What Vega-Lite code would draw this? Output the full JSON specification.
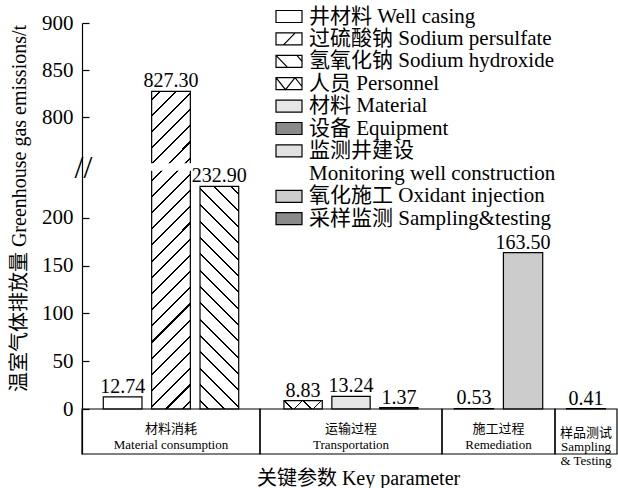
{
  "$schema": "https://vega.github.io/schema/vega-lite/v6.json",
  "padding": {"left": 9, "top": 5, "right": 1, "bottom": 0},
  "datasets": {
    "d": [
      {"stage": "Material consumption", "stage_label": "材料消耗\nMaterial consumption", "series": "井材料 Well casing", "value": 12.74},
      {"stage": "Material consumption", "stage_label": "材料消耗\nMaterial consumption", "series": "过硫酸钠 Sodium persulfate", "value": 827.30},
      {"stage": "Material consumption", "stage_label": "材料消耗\nMaterial consumption", "series": "氢氧化钠 Sodium hydroxide", "value": 232.90},
      {"stage": "Transportation", "stage_label": "运输过程\nTransportation", "series": "人员 Personnel", "value": 8.83},
      {"stage": "Transportation", "stage_label": "运输过程\nTransportation", "series": "材料 Material", "value": 13.24},
      {"stage": "Transportation", "stage_label": "运输过程\nTransportation", "series": "设备 Equipment", "value": 1.37},
      {"stage": "Remediation", "stage_label": "施工过程\nRemediation", "series": "监测井建设 Monitoring well construction", "value": 0.53},
      {"stage": "Remediation", "stage_label": "施工过程\nRemediation", "series": "氧化施工 Oxidant injection", "value": 163.50},
      {"stage": "Sampling & Testing", "stage_label": "样品测试\nSampling\n& Testing", "series": "采样监测 Sampling&testing", "value": 0.41}
    ]
  },
  "title": {"text": "关键参数 Key parameter", "orient": "bottom", "anchor": "middle", "font": "'Liberation Serif', 'Noto Sans CJK SC', serif", "fontSize": 20, "fontWeight": "normal", "color": "black", "offset": 1, "dx": 45},
  "spacing": 0,
  "bounds": "flush",
  "resolve": {"scale": {"fill": "shared", "x": "independent", "y": "independent"}},
  "hconcat": [
    {
      "width": 178, "height": 431,
      "data": {"name": "d"},
      "transform": [{"filter": {"field": "stage", "equal": "Material consumption"}}],
      "layer": [
        {
          "mark": {"type": "bar", "stroke": "black", "strokeWidth": 1.2},
          "encoding": {
            "x": {"field": "series", "type": "nominal", "sort": null, "axis": null, "scale": {"domain": ["井材料 Well casing", "过硫酸钠 Sodium persulfate", "氢氧化钠 Sodium hydroxide"], "paddingInner": 0.2, "paddingOuter": 0.44}},
            "y": {"field": "value", "type": "quantitative", "scale": {"type": "linear", "domain": [-50, 0, 250, 750, 900], "range": [431, 386, 147, 141, 0], "nice": false, "zero": false},
              "axis": {
                "values": [0, 50, 100, 150, 200, 500, 800, 850, 900],
                "labelExpr": "datum.value == 500 ? '//' : datum.label",
                "labelFontSize": {"condition": {"test": "datum.value == 500", "value": 32}, "value": 21},
                "labelAlign": {"condition": {"test": "datum.value == 500", "value": "center"}, "value": "right"},
                "labelPadding": {"condition": {"test": "datum.value == 500", "value": 6}, "value": 16},
                "tickOpacity": {"condition": {"test": "datum.value == 500", "value": 0}, "value": 1},
                "tickSize": -7, "tickWidth": 1.2, "domainWidth": 1.2,
                "labelOverlap": false, "labelFlush": false,
                "title": "温室气体排放量 Greenhouse gas emissions/t",
                "titleFontSize": 20, "titleFontWeight": "normal", "titlePadding": 12, "titleY": 185, "zindex": 1
              }},
            "fill": {"field": "series", "type": "nominal",
              "scale": {"domain": ["井材料 Well casing", "过硫酸钠 Sodium persulfate", "氢氧化钠 Sodium hydroxide", "人员 Personnel", "材料 Material", "设备 Equipment", "监测井建设 Monitoring well construction", "氧化施工 Oxidant injection", "采样监测 Sampling&testing"],
                "range": ["white", "white", "white", "white", "#e6e6e6", "#8a8a8a", "#e2e2e2", "#cccccc", "#8a8a8a"]},
              "legend": {
                "title": null,
                "labelFont": "'Liberation Serif', 'Noto Sans CJK SC', serif",
                "labelExpr": "datum.value == '监测井建设 Monitoring well construction' ? ['监测井建设', 'Monitoring well construction'] : datum.label",
                "encode": {"symbols": {"update": {"shape": {"signal": "datum.index == 1 ? 'M-1.3,-0.6H1.3V0.6H-1.3Z M-0.55,0.6L0.62,-0.6' : datum.index == 2 ? 'M-1.3,-0.6H1.3V0.6H-1.3Z M-1.3,-0.6L-0.15,0.6 M0.79,-0.6L1.3,0' : datum.index == 3 ? 'M-1.3,-0.6H1.3V0.6H-1.3Z M-1.3,-0.6L-0.35,0.6L0.6,-0.6L1.3,0.28' : 'M-1.3,-0.6H1.3V0.6H-1.3Z'"}}}}
              }}
          }
        },
        {
          "transform": [{"filter": {"field": "series", "equal": "过硫酸钠 Sodium persulfate"}}],
          "mark": {"type": "bar", "strokeWidth": 0, "fill": {"gradient": "linear", "x1": 0, "y1": 0, "x2": 0.1347, "y2": 1.1054, "stops": [
            {"offset": 0.0197, "color": "rgba(0,0,0,0)"}, {"offset": 0.0197, "color": "black"}, {"offset": 0.0257, "color": "black"}, {"offset": 0.0257, "color": "rgba(0,0,0,0)"},
            {"offset": 0.0652, "color": "rgba(0,0,0,0)"}, {"offset": 0.0652, "color": "black"}, {"offset": 0.0712, "color": "black"}, {"offset": 0.0712, "color": "rgba(0,0,0,0)"},
            {"offset": 0.1106, "color": "rgba(0,0,0,0)"}, {"offset": 0.1106, "color": "black"}, {"offset": 0.1166, "color": "black"}, {"offset": 0.1166, "color": "rgba(0,0,0,0)"},
            {"offset": 0.1561, "color": "rgba(0,0,0,0)"}, {"offset": 0.1561, "color": "black"}, {"offset": 0.1621, "color": "black"}, {"offset": 0.1621, "color": "rgba(0,0,0,0)"},
            {"offset": 0.2015, "color": "rgba(0,0,0,0)"}, {"offset": 0.2015, "color": "black"}, {"offset": 0.2075, "color": "black"}, {"offset": 0.2075, "color": "rgba(0,0,0,0)"},
            {"offset": 0.247, "color": "rgba(0,0,0,0)"}, {"offset": 0.247, "color": "black"}, {"offset": 0.253, "color": "black"}, {"offset": 0.253, "color": "rgba(0,0,0,0)"},
            {"offset": 0.2925, "color": "rgba(0,0,0,0)"}, {"offset": 0.2925, "color": "black"}, {"offset": 0.2985, "color": "black"}, {"offset": 0.2985, "color": "rgba(0,0,0,0)"},
            {"offset": 0.3379, "color": "rgba(0,0,0,0)"}, {"offset": 0.3379, "color": "black"}, {"offset": 0.3439, "color": "black"}, {"offset": 0.3439, "color": "rgba(0,0,0,0)"},
            {"offset": 0.3834, "color": "rgba(0,0,0,0)"}, {"offset": 0.3834, "color": "black"}, {"offset": 0.3894, "color": "black"}, {"offset": 0.3894, "color": "rgba(0,0,0,0)"},
            {"offset": 0.4288, "color": "rgba(0,0,0,0)"}, {"offset": 0.4288, "color": "black"}, {"offset": 0.4348, "color": "black"}, {"offset": 0.4348, "color": "rgba(0,0,0,0)"},
            {"offset": 0.4743, "color": "rgba(0,0,0,0)"}, {"offset": 0.4743, "color": "black"}, {"offset": 0.4803, "color": "black"}, {"offset": 0.4803, "color": "rgba(0,0,0,0)"},
            {"offset": 0.5197, "color": "rgba(0,0,0,0)"}, {"offset": 0.5197, "color": "black"}, {"offset": 0.5257, "color": "black"}, {"offset": 0.5257, "color": "rgba(0,0,0,0)"},
            {"offset": 0.5652, "color": "rgba(0,0,0,0)"}, {"offset": 0.5652, "color": "black"}, {"offset": 0.5712, "color": "black"}, {"offset": 0.5712, "color": "rgba(0,0,0,0)"},
            {"offset": 0.6106, "color": "rgba(0,0,0,0)"}, {"offset": 0.6106, "color": "black"}, {"offset": 0.6166, "color": "black"}, {"offset": 0.6166, "color": "rgba(0,0,0,0)"},
            {"offset": 0.6561, "color": "rgba(0,0,0,0)"}, {"offset": 0.6561, "color": "black"}, {"offset": 0.6621, "color": "black"}, {"offset": 0.6621, "color": "rgba(0,0,0,0)"},
            {"offset": 0.7015, "color": "rgba(0,0,0,0)"}, {"offset": 0.7015, "color": "black"}, {"offset": 0.7075, "color": "black"}, {"offset": 0.7075, "color": "rgba(0,0,0,0)"},
            {"offset": 0.747, "color": "rgba(0,0,0,0)"}, {"offset": 0.747, "color": "black"}, {"offset": 0.753, "color": "black"}, {"offset": 0.753, "color": "rgba(0,0,0,0)"},
            {"offset": 0.7925, "color": "rgba(0,0,0,0)"}, {"offset": 0.7925, "color": "black"}, {"offset": 0.7985, "color": "black"}, {"offset": 0.7985, "color": "rgba(0,0,0,0)"},
            {"offset": 0.8379, "color": "rgba(0,0,0,0)"}, {"offset": 0.8379, "color": "black"}, {"offset": 0.8439, "color": "black"}, {"offset": 0.8439, "color": "rgba(0,0,0,0)"},
            {"offset": 0.8834, "color": "rgba(0,0,0,0)"}, {"offset": 0.8834, "color": "black"}, {"offset": 0.8894, "color": "black"}, {"offset": 0.8894, "color": "rgba(0,0,0,0)"},
            {"offset": 0.9288, "color": "rgba(0,0,0,0)"}, {"offset": 0.9288, "color": "black"}, {"offset": 0.9348, "color": "black"}, {"offset": 0.9348, "color": "rgba(0,0,0,0)"},
            {"offset": 0.9743, "color": "rgba(0,0,0,0)"}, {"offset": 0.9743, "color": "black"}, {"offset": 0.9803, "color": "black"}, {"offset": 0.9803, "color": "rgba(0,0,0,0)"}
          ]}},
          "encoding": {
            "x": {"field": "series", "type": "nominal", "sort": null, "axis": null, "scale": {"domain": ["井材料 Well casing", "过硫酸钠 Sodium persulfate", "氢氧化钠 Sodium hydroxide"], "paddingInner": 0.2, "paddingOuter": 0.44}},
            "y": {"field": "value", "type": "quantitative", "scale": {"type": "linear", "domain": [-50, 0, 250, 750, 900], "range": [431, 386, 147, 141, 0], "nice": false, "zero": false}}
          }
        },
        {
          "transform": [{"filter": {"field": "series", "equal": "氢氧化钠 Sodium hydroxide"}}],
          "mark": {"type": "bar", "strokeWidth": 0, "fill": {"gradient": "linear", "x1": 0, "y1": 1, "x2": 0.198, "y2": -0.1394, "stops": [
            {"offset": 0.0273, "color": "rgba(0,0,0,0)"}, {"offset": 0.0273, "color": "black"}, {"offset": 0.0353, "color": "black"}, {"offset": 0.0353, "color": "rgba(0,0,0,0)"},
            {"offset": 0.0898, "color": "rgba(0,0,0,0)"}, {"offset": 0.0898, "color": "black"}, {"offset": 0.0978, "color": "black"}, {"offset": 0.0978, "color": "rgba(0,0,0,0)"},
            {"offset": 0.1523, "color": "rgba(0,0,0,0)"}, {"offset": 0.1523, "color": "black"}, {"offset": 0.1603, "color": "black"}, {"offset": 0.1603, "color": "rgba(0,0,0,0)"},
            {"offset": 0.2148, "color": "rgba(0,0,0,0)"}, {"offset": 0.2148, "color": "black"}, {"offset": 0.2228, "color": "black"}, {"offset": 0.2228, "color": "rgba(0,0,0,0)"},
            {"offset": 0.2773, "color": "rgba(0,0,0,0)"}, {"offset": 0.2773, "color": "black"}, {"offset": 0.2853, "color": "black"}, {"offset": 0.2853, "color": "rgba(0,0,0,0)"},
            {"offset": 0.3398, "color": "rgba(0,0,0,0)"}, {"offset": 0.3398, "color": "black"}, {"offset": 0.3478, "color": "black"}, {"offset": 0.3478, "color": "rgba(0,0,0,0)"},
            {"offset": 0.4023, "color": "rgba(0,0,0,0)"}, {"offset": 0.4023, "color": "black"}, {"offset": 0.4103, "color": "black"}, {"offset": 0.4103, "color": "rgba(0,0,0,0)"},
            {"offset": 0.4648, "color": "rgba(0,0,0,0)"}, {"offset": 0.4648, "color": "black"}, {"offset": 0.4728, "color": "black"}, {"offset": 0.4728, "color": "rgba(0,0,0,0)"},
            {"offset": 0.5273, "color": "rgba(0,0,0,0)"}, {"offset": 0.5273, "color": "black"}, {"offset": 0.5353, "color": "black"}, {"offset": 0.5353, "color": "rgba(0,0,0,0)"},
            {"offset": 0.5898, "color": "rgba(0,0,0,0)"}, {"offset": 0.5898, "color": "black"}, {"offset": 0.5978, "color": "black"}, {"offset": 0.5978, "color": "rgba(0,0,0,0)"},
            {"offset": 0.6523, "color": "rgba(0,0,0,0)"}, {"offset": 0.6523, "color": "black"}, {"offset": 0.6603, "color": "black"}, {"offset": 0.6603, "color": "rgba(0,0,0,0)"},
            {"offset": 0.7148, "color": "rgba(0,0,0,0)"}, {"offset": 0.7148, "color": "black"}, {"offset": 0.7228, "color": "black"}, {"offset": 0.7228, "color": "rgba(0,0,0,0)"},
            {"offset": 0.7773, "color": "rgba(0,0,0,0)"}, {"offset": 0.7773, "color": "black"}, {"offset": 0.7853, "color": "black"}, {"offset": 0.7853, "color": "rgba(0,0,0,0)"},
            {"offset": 0.8398, "color": "rgba(0,0,0,0)"}, {"offset": 0.8398, "color": "black"}, {"offset": 0.8478, "color": "black"}, {"offset": 0.8478, "color": "rgba(0,0,0,0)"},
            {"offset": 0.9023, "color": "rgba(0,0,0,0)"}, {"offset": 0.9023, "color": "black"}, {"offset": 0.9103, "color": "black"}, {"offset": 0.9103, "color": "rgba(0,0,0,0)"},
            {"offset": 0.9648, "color": "rgba(0,0,0,0)"}, {"offset": 0.9648, "color": "black"}, {"offset": 0.9728, "color": "black"}, {"offset": 0.9728, "color": "rgba(0,0,0,0)"}
          ]}},
          "encoding": {
            "x": {"field": "series", "type": "nominal", "sort": null, "axis": null, "scale": {"domain": ["井材料 Well casing", "过硫酸钠 Sodium persulfate", "氢氧化钠 Sodium hydroxide"], "paddingInner": 0.2, "paddingOuter": 0.44}},
            "y": {"field": "value", "type": "quantitative", "scale": {"type": "linear", "domain": [-50, 0, 250, 750, 900], "range": [431, 386, 147, 141, 0], "nice": false, "zero": false}}
          }
        },
        {
          "transform": [{"filter": {"field": "series", "equal": "过硫酸钠 Sodium persulfate"}}],
          "mark": {"type": "bar", "fill": "white", "stroke": "white", "strokeWidth": 1.5},
          "encoding": {
            "x": {"field": "series", "type": "nominal", "sort": null, "axis": null, "scale": {"domain": ["井材料 Well casing", "过硫酸钠 Sodium persulfate", "氢氧化钠 Sodium hydroxide"], "paddingInner": 0.2, "paddingOuter": 0.44}},
            "y": {"datum": 250, "type": "quantitative", "scale": {"type": "linear", "domain": [-50, 0, 250, 750, 900], "range": [431, 386, 147, 141, 0], "nice": false, "zero": false}},
            "y2": {"datum": 750}
          }
        },
        {
          "mark": {"type": "text", "baseline": "alphabetic", "dy": -4, "fontSize": 20, "font": "'Liberation Serif', 'Noto Sans CJK SC', serif", "color": "black"},
          "encoding": {
            "x": {"field": "series", "type": "nominal", "sort": null, "axis": null, "scale": {"domain": ["井材料 Well casing", "过硫酸钠 Sodium persulfate", "氢氧化钠 Sodium hydroxide"], "paddingInner": 0.2, "paddingOuter": 0.44}},
            "y": {"field": "value", "type": "quantitative", "scale": {"type": "linear", "domain": [-50, 0, 250, 750, 900], "range": [431, 386, 147, 141, 0], "nice": false, "zero": false}},
            "text": {"field": "value", "type": "quantitative", "format": ".2f"}
          }
        },
        {
          "transform": [{"aggregate": [{"op": "count", "as": "n"}], "groupby": ["stage_label"]}],
          "mark": {"type": "rect", "filled": false, "stroke": "black", "strokeWidth": 1.2},
          "encoding": {
            "y": {"datum": -50, "type": "quantitative", "scale": {"type": "linear", "domain": [-50, 0, 250, 750, 900], "range": [431, 386, 147, 141, 0], "nice": false, "zero": false}},
            "y2": {"datum": 0}
          }
        },
        {
          "transform": [{"aggregate": [{"op": "count", "as": "n"}], "groupby": ["stage_label"]}],
          "mark": {"type": "text", "baseline": "middle", "align": "center", "lineBreak": "\n", "lineHeight": 16, "fontSize": 13, "font": "'Liberation Serif', 'Noto Sans CJK SC', serif", "color": "black"},
          "encoding": {
            "y": {"datum": -22, "type": "quantitative", "scale": {"type": "linear", "domain": [-50, 0, 250, 750, 900], "range": [431, 386, 147, 141, 0], "nice": false, "zero": false}},
            "text": {"field": "stage_label"}
          }
        }
      ]
    },
    {
      "width": 182, "height": 431,
      "data": {"name": "d"},
      "transform": [{"filter": {"field": "stage", "equal": "Transportation"}}],
      "layer": [
        {
          "mark": {"type": "bar", "stroke": "black", "strokeWidth": 1.2},
          "encoding": {
            "x": {"field": "series", "type": "nominal", "sort": null, "axis": null, "scale": {"domain": ["人员 Personnel", "材料 Material", "设备 Equipment"], "paddingInner": 0.2, "paddingOuter": 0.5}},
            "y": {"field": "value", "type": "quantitative", "axis": null, "scale": {"type": "linear", "domain": [-50, 0, 250, 750, 900], "range": [431, 386, 147, 141, 0], "nice": false, "zero": false}},
            "fill": {"field": "series", "type": "nominal",
              "scale": {"domain": ["井材料 Well casing", "过硫酸钠 Sodium persulfate", "氢氧化钠 Sodium hydroxide", "人员 Personnel", "材料 Material", "设备 Equipment", "监测井建设 Monitoring well construction", "氧化施工 Oxidant injection", "采样监测 Sampling&testing"],
                "range": ["white", "white", "white", "white", "#e6e6e6", "#8a8a8a", "#e2e2e2", "#cccccc", "#8a8a8a"]},
              "legend": {"title": null}}
          }
        },
        {
          "transform": [{"filter": {"field": "series", "equal": "人员 Personnel"}}],
          "mark": {"type": "bar", "strokeWidth": 0, "fill": {"gradient": "linear", "x1": 0, "y1": 0, "x2": 1.164, "y2": 0.2565, "stops": [
            {"offset": 0.376, "color": "rgba(0,0,0,0)"}, {"offset": 0.376, "color": "black"}, {"offset": 0.416, "color": "black"}, {"offset": 0.416, "color": "rgba(0,0,0,0)"},
            {"offset": 0.782, "color": "rgba(0,0,0,0)"}, {"offset": 0.782, "color": "black"}, {"offset": 0.822, "color": "black"}, {"offset": 0.822, "color": "rgba(0,0,0,0)"}
          ]}},
          "encoding": {
            "x": {"field": "series", "type": "nominal", "sort": null, "axis": null, "scale": {"domain": ["人员 Personnel", "材料 Material", "设备 Equipment"], "paddingInner": 0.2, "paddingOuter": 0.5}},
            "y": {"field": "value", "type": "quantitative", "axis": null, "scale": {"type": "linear", "domain": [-50, 0, 250, 750, 900], "range": [431, 386, 147, 141, 0], "nice": false, "zero": false}}
          }
        },
        {
          "transform": [{"filter": {"field": "series", "equal": "人员 Personnel"}}],
          "mark": {"type": "bar", "strokeWidth": 0, "fill": {"gradient": "linear", "x1": 0, "y1": 1, "x2": 1.164, "y2": 0.7435, "stops": [
            {"offset": 0.161, "color": "rgba(0,0,0,0)"}, {"offset": 0.161, "color": "black"}, {"offset": 0.201, "color": "black"}, {"offset": 0.201, "color": "rgba(0,0,0,0)"},
            {"offset": 0.567, "color": "rgba(0,0,0,0)"}, {"offset": 0.567, "color": "black"}, {"offset": 0.607, "color": "black"}, {"offset": 0.607, "color": "rgba(0,0,0,0)"},
            {"offset": 0.974, "color": "rgba(0,0,0,0)"}, {"offset": 0.974, "color": "black"}, {"offset": 1, "color": "black"}
          ]}},
          "encoding": {
            "x": {"field": "series", "type": "nominal", "sort": null, "axis": null, "scale": {"domain": ["人员 Personnel", "材料 Material", "设备 Equipment"], "paddingInner": 0.2, "paddingOuter": 0.5}},
            "y": {"field": "value", "type": "quantitative", "axis": null, "scale": {"type": "linear", "domain": [-50, 0, 250, 750, 900], "range": [431, 386, 147, 141, 0], "nice": false, "zero": false}}
          }
        },
        {
          "mark": {"type": "text", "baseline": "alphabetic", "dy": -4, "fontSize": 20, "font": "'Liberation Serif', 'Noto Sans CJK SC', serif", "color": "black"},
          "encoding": {
            "x": {"field": "series", "type": "nominal", "sort": null, "axis": null, "scale": {"domain": ["人员 Personnel", "材料 Material", "设备 Equipment"], "paddingInner": 0.2, "paddingOuter": 0.5}},
            "y": {"field": "value", "type": "quantitative", "axis": null, "scale": {"type": "linear", "domain": [-50, 0, 250, 750, 900], "range": [431, 386, 147, 141, 0], "nice": false, "zero": false}},
            "text": {"field": "value", "type": "quantitative", "format": ".2f"}
          }
        },
        {
          "transform": [{"aggregate": [{"op": "count", "as": "n"}], "groupby": ["stage_label"]}],
          "mark": {"type": "rect", "filled": false, "stroke": "black", "strokeWidth": 1.2},
          "encoding": {
            "y": {"datum": -50, "type": "quantitative", "axis": null, "scale": {"type": "linear", "domain": [-50, 0, 250, 750, 900], "range": [431, 386, 147, 141, 0], "nice": false, "zero": false}},
            "y2": {"datum": 0}
          }
        },
        {
          "transform": [{"aggregate": [{"op": "count", "as": "n"}], "groupby": ["stage_label"]}],
          "mark": {"type": "text", "baseline": "middle", "align": "center", "lineBreak": "\n", "lineHeight": 16, "fontSize": 13, "font": "'Liberation Serif', 'Noto Sans CJK SC', serif", "color": "black"},
          "encoding": {
            "y": {"datum": -22, "type": "quantitative", "axis": null, "scale": {"type": "linear", "domain": [-50, 0, 250, 750, 900], "range": [431, 386, 147, 141, 0], "nice": false, "zero": false}},
            "text": {"field": "stage_label"}
          }
        }
      ]
    },
    {
      "width": 113, "height": 431,
      "data": {"name": "d"},
      "transform": [{"filter": {"field": "stage", "equal": "Remediation"}}],
      "layer": [
        {
          "mark": {"type": "bar", "stroke": "black", "strokeWidth": 1.2},
          "encoding": {
            "x": {"field": "series", "type": "nominal", "sort": null, "axis": null, "scale": {"domain": ["监测井建设 Monitoring well construction", "氧化施工 Oxidant injection"], "paddingInner": 0.2, "paddingOuter": 0.25}},
            "y": {"field": "value", "type": "quantitative", "axis": null, "scale": {"type": "linear", "domain": [-50, 0, 250, 750, 900], "range": [431, 386, 147, 141, 0], "nice": false, "zero": false}},
            "fill": {"field": "series", "type": "nominal",
              "scale": {"domain": ["井材料 Well casing", "过硫酸钠 Sodium persulfate", "氢氧化钠 Sodium hydroxide", "人员 Personnel", "材料 Material", "设备 Equipment", "监测井建设 Monitoring well construction", "氧化施工 Oxidant injection", "采样监测 Sampling&testing"],
                "range": ["white", "white", "white", "white", "#e6e6e6", "#8a8a8a", "#e2e2e2", "#cccccc", "#8a8a8a"]},
              "legend": {"title": null}}
          }
        },
        {
          "mark": {"type": "text", "baseline": "alphabetic", "dy": -4, "fontSize": 20, "font": "'Liberation Serif', 'Noto Sans CJK SC', serif", "color": "black"},
          "encoding": {
            "x": {"field": "series", "type": "nominal", "sort": null, "axis": null, "scale": {"domain": ["监测井建设 Monitoring well construction", "氧化施工 Oxidant injection"], "paddingInner": 0.2, "paddingOuter": 0.25}},
            "y": {"field": "value", "type": "quantitative", "axis": null, "scale": {"type": "linear", "domain": [-50, 0, 250, 750, 900], "range": [431, 386, 147, 141, 0], "nice": false, "zero": false}},
            "text": {"field": "value", "type": "quantitative", "format": ".2f"}
          }
        },
        {
          "transform": [{"aggregate": [{"op": "count", "as": "n"}], "groupby": ["stage_label"]}],
          "mark": {"type": "rect", "filled": false, "stroke": "black", "strokeWidth": 1.2},
          "encoding": {
            "y": {"datum": -50, "type": "quantitative", "axis": null, "scale": {"type": "linear", "domain": [-50, 0, 250, 750, 900], "range": [431, 386, 147, 141, 0], "nice": false, "zero": false}},
            "y2": {"datum": 0}
          }
        },
        {
          "transform": [{"aggregate": [{"op": "count", "as": "n"}], "groupby": ["stage_label"]}],
          "mark": {"type": "text", "baseline": "middle", "align": "center", "lineBreak": "\n", "lineHeight": 16, "fontSize": 13, "font": "'Liberation Serif', 'Noto Sans CJK SC', serif", "color": "black"},
          "encoding": {
            "y": {"datum": -22, "type": "quantitative", "axis": null, "scale": {"type": "linear", "domain": [-50, 0, 250, 750, 900], "range": [431, 386, 147, 141, 0], "nice": false, "zero": false}},
            "text": {"field": "stage_label"}
          }
        }
      ]
    },
    {
      "width": 62, "height": 431,
      "data": {"name": "d"},
      "transform": [{"filter": {"field": "stage", "equal": "Sampling & Testing"}}],
      "layer": [
        {
          "mark": {"type": "bar", "stroke": "black", "strokeWidth": 1.2},
          "encoding": {
            "x": {"field": "series", "type": "nominal", "sort": null, "axis": null, "scale": {"domain": ["采样监测 Sampling&testing"], "paddingInner": 0.2, "paddingOuter": 0.236}},
            "y": {"field": "value", "type": "quantitative", "axis": null, "scale": {"type": "linear", "domain": [-50, 0, 250, 750, 900], "range": [431, 386, 147, 141, 0], "nice": false, "zero": false}},
            "fill": {"field": "series", "type": "nominal",
              "scale": {"domain": ["井材料 Well casing", "过硫酸钠 Sodium persulfate", "氢氧化钠 Sodium hydroxide", "人员 Personnel", "材料 Material", "设备 Equipment", "监测井建设 Monitoring well construction", "氧化施工 Oxidant injection", "采样监测 Sampling&testing"],
                "range": ["white", "white", "white", "white", "#e6e6e6", "#8a8a8a", "#e2e2e2", "#cccccc", "#8a8a8a"]},
              "legend": {"title": null}}
          }
        },
        {
          "mark": {"type": "text", "baseline": "alphabetic", "dy": -4, "fontSize": 20, "font": "'Liberation Serif', 'Noto Sans CJK SC', serif", "color": "black"},
          "encoding": {
            "x": {"field": "series", "type": "nominal", "sort": null, "axis": null, "scale": {"domain": ["采样监测 Sampling&testing"], "paddingInner": 0.2, "paddingOuter": 0.236}},
            "y": {"field": "value", "type": "quantitative", "axis": null, "scale": {"type": "linear", "domain": [-50, 0, 250, 750, 900], "range": [431, 386, 147, 141, 0], "nice": false, "zero": false}},
            "text": {"field": "value", "type": "quantitative", "format": ".2f"}
          }
        },
        {
          "transform": [{"aggregate": [{"op": "count", "as": "n"}], "groupby": ["stage_label"]}],
          "mark": {"type": "rect", "filled": false, "stroke": "black", "strokeWidth": 1.2},
          "encoding": {
            "y": {"datum": -50, "type": "quantitative", "axis": null, "scale": {"type": "linear", "domain": [-50, 0, 250, 750, 900], "range": [431, 386, 147, 141, 0], "nice": false, "zero": false}},
            "y2": {"datum": 0}
          }
        },
        {
          "transform": [{"aggregate": [{"op": "count", "as": "n"}], "groupby": ["stage_label"]}],
          "mark": {"type": "text", "baseline": "middle", "align": "center", "lineBreak": "\n", "lineHeight": 14, "fontSize": 13, "font": "'Liberation Serif', 'Noto Sans CJK SC', serif", "color": "black"},
          "encoding": {
            "y": {"datum": -27, "type": "quantitative", "axis": null, "scale": {"type": "linear", "domain": [-50, 0, 250, 750, 900], "range": [431, 386, 147, 141, 0], "nice": false, "zero": false}},
            "text": {"field": "stage_label"}
          }
        }
      ]
    }
  ],
  "config": {
    "view": {"stroke": null},
    "axis": {"labelFont": "'Liberation Serif', 'Noto Sans CJK SC', serif", "titleFont": "'Liberation Serif', 'Noto Sans CJK SC', serif", "labelColor": "black", "titleColor": "black", "domainColor": "black", "tickColor": "black", "grid": false},
    "legend": {"orient": "none", "legendX": 196, "legendY": -17.5, "padding": 0, "labelFont": "'Liberation Serif', 'Noto Sans CJK SC', serif", "labelFontSize": 21, "labelColor": "black", "labelLimit": 0, "labelOffset": 9, "symbolSize": 400, "symbolStrokeColor": "black", "symbolStrokeWidth": 1.2, "rowPadding": 1.4}
  }
}
